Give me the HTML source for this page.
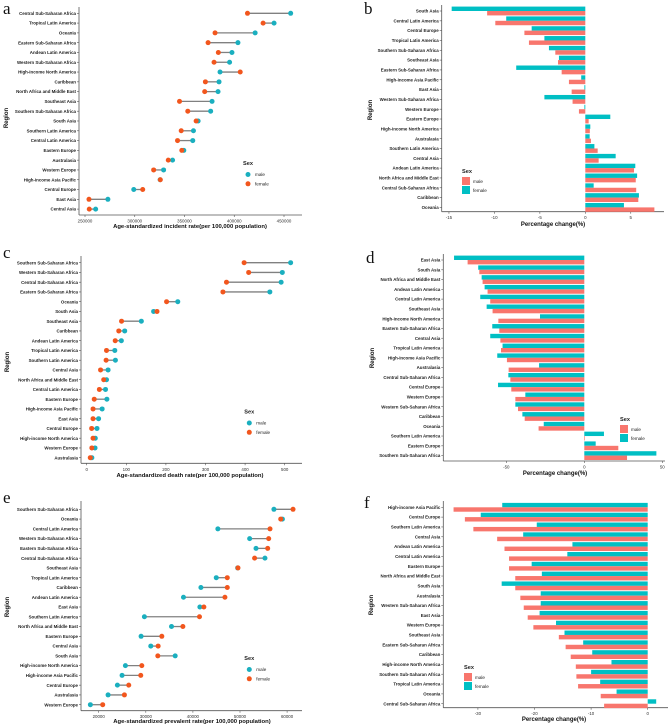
<!DOCTYPE html>
<html><head><meta charset="utf-8">
<style>
html,body{margin:0;padding:0;background:#fff;}
svg{display:block;font-family:"Liberation Sans",sans-serif;}
</style></head>
<body>
<svg id="fig" width="669" height="727" viewBox="0 0 669 727" xmlns="http://www.w3.org/2000/svg"></svg>
<script>
// ---- Panel a: incident rate (dumbbell) ----
const catsA = ["Central Sub-Saharan Africa","Tropical Latin America","Oceania","Eastern Sub-Saharan Africa","Andean Latin America","Western Sub-Saharan Africa","High-income North America","Caribbean","North Africa and Middle East","Southeast Asia","Southern Sub-Saharan Africa","South Asia","Southern Latin America","Central Latin America","Eastern Europe","Australasia","Western Europe","High-income Asia Pacific","Central Europe","East Asia","Central Asia"];
const maleA = [456700,440000,421000,403700,397700,395300,385700,384700,383700,377700,376300,363700,359000,358300,349300,338000,329000,325500,299000,273000,260700];
const femaleA = [413300,429000,380700,373700,384000,379700,406000,371000,370300,345000,353300,361700,346700,343000,347300,333700,319000,325700,308000,254000,254300];
const ticksA = [250000,300000,350000,400000,450000];

// ---- Panel b: percentage change (incidence) ----
const catsB = ["South Asia","Central Latin America","Central Europe","Tropical Latin America","Southern Sub-Saharan Africa","Southeast Asia","Eastern Sub-Saharan Africa","High-income Asia Pacific","East Asia","Western Sub-Saharan Africa","Western Europe","Eastern Europe","High-income North America","Australasia","Southern Latin America","Central Asia","Andean Latin America","North Africa and Middle East","Central Sub-Saharan Africa","Caribbean","Oceania"];
const maleB = [-10.8,-9.9,-6.7,-6.2,-3.3,-3.0,-2.6,-1.8,-1.5,-1.4,-0.7,0.37,0.5,0.62,1.36,1.47,5.36,5.55,5.6,5.83,7.6];
const femaleB = [-14.7,-8.7,-5.9,-4.5,-4.0,-2.9,-7.6,-0.45,-0.1,-4.5,-0.1,2.75,0.55,0.48,1.0,3.34,5.5,5.7,0.92,5.9,4.25];
const ticksB = [-15,-10,-5,0,5];

// ---- Panel c: death rate (dumbbell) ----
const catsC = ["Southern Sub-Saharan Africa","Western Sub-Saharan Africa","Central Sub-Saharan Africa","Eastern Sub-Saharan Africa","Oceania","South Asia","Southeast Asia","Caribbean","Andean Latin America","Tropical Latin America","Southern Latin America","Central Asia","North Africa and Middle East","Central Latin America","Eastern Europe","High-income Asia Pacific","East Asia","Central Europe","High-income North America","Western Europe","Australasia"];
const maleC = [515,494,491,462.5,230,169,138,96,87.5,71,72.5,54,50,47.5,51,39,30,26,21.7,21,13];
const femaleC = [397.5,409,353,344,201.7,177.5,88,81,72,50,49,35,43,32,19,16,16,12.5,16,13,9];
const ticksC = [0,100,200,300,400,500];

// ---- Panel d: percentage change (death) ----
const catsD = ["East Asia","South Asia","North Africa and Middle East","Andean Latin America","Central Latin America","Southeast Asia","High-income North America","Eastern Sub-Saharan Africa","Central Asia","Tropical Latin America","High-income Asia Pacific","Australasia","Central Sub-Saharan Africa","Central Europe","Western Europe","Western Sub-Saharan Africa","Caribbean","Oceania","Southern Latin America","Eastern Europe","Southern Sub-Saharan Africa"];
const maleD = [-74.8,-67.3,-65.2,-62,-60.3,-58.8,-55.1,-54.5,-53.8,-53.4,-49.6,-48.5,-47.4,-46.8,-44.2,-42.5,-38.2,-29.3,0.4,21.8,27.4];
const femaleD = [-83.5,-68,-65.8,-63.9,-66.7,-62.6,-28.4,-59,-60.3,-52.4,-55.8,-29,-48.7,-55.3,-37.8,-44.2,-39.7,-26,12.6,7.3,46.2];
const ticksD = [-50,0,50];

// ---- Panel e: prevalent rate (dumbbell) ----
const catsE = ["Southern Sub-Saharan Africa","Oceania","Central Latin America","Western Sub-Saharan Africa","Eastern Sub-Saharan Africa","Central Sub-Saharan Africa","Southeast Asia","Tropical Latin America","Caribbean","Andean Latin America","East Asia","Southern Latin America","North Africa and Middle East","Eastern Europe","Central Asia","South Asia","High-income North America","High-income Asia Pacific","Central Europe","Australasia","Western Europe"];
const maleE = [57200,59000,45300,52050,53400,55300,49500,44960,41700,38000,41480,29700,35460,29000,31060,36240,25670,24960,23970,21990,18230];
const femaleE = [61260,58650,56370,56090,55880,53100,49570,47300,47300,46800,42330,41400,37870,33400,32620,32550,29150,28930,26380,25460,20850];
const ticksE = [20000,30000,40000,50000,60000];

// ---- Panel f: percentage change (prevalence) ----
const catsF = ["High-income Asia Pacific","Central Europe","Southern Latin America","Central Asia","Andean Latin America","Central Latin America","Eastern Europe","North Africa and Middle East","South Asia","Australasia","Western Sub-Saharan Africa","East Asia","Western Europe","Southeast Asia","Eastern Sub-Saharan Africa","Caribbean","High-income North America","Southern Sub-Saharan Africa","Tropical Latin America","Oceania","Central Sub-Saharan Africa"];
const maleF = [-34.3,-32.3,-30.8,-26.6,-25.3,-24.5,-24.5,-23.4,-23.4,-22.5,-21.9,-21.2,-20.2,-15.7,-14.5,-13.6,-12.7,-12.6,-12.3,-8.3,-7.7];
const femaleF = [-25.7,-29.5,-19.6,-22,-13.3,-14.2,-20.5,-18.7,-25.8,-18.9,-18.9,-19.1,-16.2,-14.7,-11.4,-9.8,-6.4,-10,-8.4,-5.5,1.5];
const ticksF = [-30,-20,-10,0];

const NS = "http://www.w3.org/2000/svg";
const svg = document.getElementById("fig");
const MALE_DOT="#1AAFBF", FEMALE_DOT="#F2561D", MALE_BAR="#F8766D", FEMALE_BAR="#00BFC4", AX="#555";

function el(tag, attrs, parent, text){
  const e=document.createElementNS(NS,tag);
  for(const k in attrs) e.setAttribute(k,attrs[k]);
  if(text!==undefined) e.textContent=text;
  (parent||svg).appendChild(e);
  return e;
}
function fmt(v){return String(v);}

function frame(g,p){
  const ax=el("line",{x1:p.left,y1:p.top,x2:p.left,y2:p.bottom,stroke:AX,"stroke-width":0.8},g);
  
  
  const bx=el("line",{x1:p.left,y1:p.bottom,x2:p.right,y2:p.bottom,stroke:AX,"stroke-width":0.8},g);
  
  
}
function yLabels(g,p,cats){
  cats.forEach((c,i)=>{
    const y=p.y0+i*p.step;
    const t=el("text",{x:p.left-3,y:y+1.6,"font-size":4.4,"font-weight":"bold","text-anchor":"end",fill:"#222"},g,c);
    
    
    el("line",{x1:p.left-2,y1:y,x2:p.left,y2:y,stroke:AX,"stroke-width":0.6},g);
  });
}
function xTicks(g,p,ticks,sx){
  ticks.forEach(v=>{
    const x=sx(v);
    el("line",{x1:x,y1:p.bottom,x2:x,y2:p.bottom+2,stroke:AX,"stroke-width":0.6},g);
    const t=el("text",{x:x,y:p.bottom+7.5,"font-size":4.4,"text-anchor":"middle",fill:"#333"},g,fmt(v));
    
    
  });
}
function titles(g,p){
  const xt=el("text",{x:p.xtx,y:p.xty,"font-size":p.xfs,"font-weight":"bold","text-anchor":"middle",fill:"#111"},g,p.xtitle);
  
  
  const yt=el("text",{x:0,y:0,"font-size":6,"font-weight":"bold","text-anchor":"middle",fill:"#111",transform:`translate(${p.ytx},${p.yty}) rotate(-90)`},g,"Region");
  
  
  const pl=el("text",{x:p.lx,y:p.ly,"font-size":17,"font-family":"Liberation Serif,serif",fill:"#111"},g,p.letter);
  
  
}

function dumbbell(p,cats,male,female,ticks){
  const g=el("g",{});
  
  
  const sx=v=>p.x0px+(v-p.x0v)*p.scale;
  frame(g,p); yLabels(g,p,cats); xTicks(g,p,ticks,sx); titles(g,p);
  cats.forEach((c,i)=>{
    const y=p.y0+i*p.step;
    const seg=el("line",{x1:sx(male[i]),y1:y,x2:sx(female[i]),y2:y,stroke:"#808080","stroke-width":1.3},g);
    
    
    const m=el("circle",{cx:sx(male[i]),cy:y,r:2.5,fill:MALE_DOT},g);
    
    
    const f=el("circle",{cx:sx(female[i]),cy:y,r:2.5,fill:FEMALE_DOT},g);
    
    
  });
  const lg=el("g",{},g);
  
  
  el("text",{x:p.legx-5,y:p.legy,"font-size":5.6,"font-weight":"bold",fill:"#222"},lg,"Sex");
  el("circle",{cx:p.legx,cy:p.legy+9.5,r:2.5,fill:MALE_DOT},lg);
  el("text",{x:p.legx+7,y:p.legy+11.2,"font-size":4.6,fill:"#222"},lg,"male");
  el("circle",{cx:p.legx,cy:p.legy+18.8,r:2.5,fill:FEMALE_DOT},lg);
  el("text",{x:p.legx+7,y:p.legy+20.5,"font-size":4.6,fill:"#222"},lg,"female");
}

function bars(p,cats,male,female,ticks){
  const g=el("g",{});
  
  
  const sx=v=>p.zero+v*p.scale;
  frame(g,p); yLabels(g,p,cats); xTicks(g,p,ticks,sx); titles(g,p);
  const h=p.step*0.45;
  cats.forEach((c,i)=>{
    const y=p.y0+i*p.step;
    const fx=sx(female[i]), mx=sx(male[i]), z=sx(0);
    const fb=el("rect",{x:Math.min(fx,z),y:y-h,width:Math.abs(fx-z),height:h,fill:FEMALE_BAR},g);
    
    
    const mb=el("rect",{x:Math.min(mx,z),y:y,width:Math.abs(mx-z),height:h,fill:MALE_BAR},g);
    
    
  });
  const lg=el("g",{},g);
  
  
  el("text",{x:p.legx,y:p.legy,"font-size":5.6,"font-weight":"bold",fill:"#222"},lg,"Sex");
  el("rect",{x:p.legx,y:p.legy+4,width:8,height:8,fill:MALE_BAR},lg);
  el("text",{x:p.legx+11,y:p.legy+10,"font-size":4.6,fill:"#222"},lg,"male");
  el("rect",{x:p.legx,y:p.legy+13,width:8,height:8,fill:FEMALE_BAR},lg);
  el("text",{x:p.legx+11,y:p.legy+19,"font-size":4.6,fill:"#222"},lg,"female");
}

dumbbell({name:"panel-a-incidence",left:79,right:302,top:7,bottom:215,y0:13.3,step:9.79,x0v:250000,x0px:85,scale:50/50000*0.995,
  xtitle:"Age-standardized incident rate(per 100,000 population)",xfs:5.9,xtx:190,xty:228,ytx:8,yty:118,letter:"a",lx:3,ly:14,legx:248,legy:165},
  catsA,maleA,femaleA,ticksA);
bars({name:"panel-b-incidence-change",left:441.7,right:664,top:5,bottom:211.7,y0:11,step:9.82,zero:585.3,scale:9.09,
  xtitle:"Percentage change(%)",xfs:6,xtx:553,xty:226,ytx:372,yty:110,letter:"b",lx:364,ly:14,legx:462,legy:173},
  catsB,maleB,femaleB,ticksB);
dumbbell({name:"panel-c-death",left:81,right:302,top:256,bottom:463.3,y0:262.7,step:9.75,x0v:0,x0px:86.7,scale:0.396,
  xtitle:"Age-standardized death rate(per 100,000 population)",xfs:5.9,xtx:190,xty:477,ytx:9,yty:362,letter:"c",lx:3,ly:258,legx:249.3,legy:413.5},
  catsC,maleC,femaleC,ticksC);
bars({name:"panel-d-death-change",left:443.3,right:665,top:254,bottom:461,y0:260,step:9.78,zero:584.3,scale:1.56,
  xtitle:"Percentage change(%)",xfs:6,xtx:555,xty:475,ytx:374,yty:358,letter:"d",lx:366,ly:263,legx:620,legy:421},
  catsD,maleD,femaleD,ticksD);
dumbbell({name:"panel-e-prevalence",left:81,right:302,top:501,bottom:710.7,y0:509.3,step:9.77,x0v:20000,x0px:98.7,scale:47.1/10000,
  xtitle:"Age-standardized prevalent rate(per 100,000 population)",xfs:5.9,xtx:192,xty:723,ytx:9,yty:607,letter:"e",lx:3,ly:503,legx:249.3,legy:660},
  catsE,maleE,femaleE,ticksE);
bars({name:"panel-f-prevalence-change",left:443.3,right:668,top:501,bottom:707.7,y0:507.3,step:9.82,zero:647.7,scale:5.66,
  xtitle:"Percentage change(%)",xfs:6,xtx:554,xty:721,ytx:373,yty:605,letter:"f",lx:364,ly:508,legx:464,legy:669},
  catsF,maleF,femaleF,ticksF);
</script>
</body></html>
